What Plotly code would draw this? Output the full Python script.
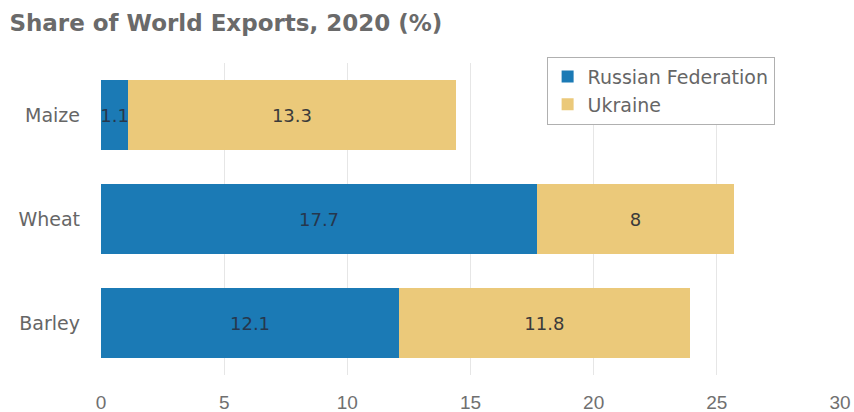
import plotly.graph_objects as go

categories = ["Barley", "Wheat", "Maize"]
russia = [12.1, 17.7, 1.1]
ukraine = [11.8, 8, 13.3]
tick_vals = [0, 5, 10, 15, 20, 25, 30]

wide_font = "DejaVu Sans, Liberation Sans, sans-serif"
tick_font = "Liberation Sans, Arial, sans-serif"

fig = go.Figure()
fig.add_trace(go.Bar(
    y=categories, x=russia, orientation="h", name="Russian Federation",
    marker=dict(color="#1b7ab5", line=dict(width=0)),
    text=[str(v) for v in russia], textposition="inside", textangle=0,
    insidetextanchor="middle", constraintext="none",
    textfont=dict(color="#26374d", size=18, family=wide_font),
))
fig.add_trace(go.Bar(
    y=categories, x=ukraine, orientation="h", name="Ukraine",
    marker=dict(color="#ebc97a", line=dict(width=0)),
    text=[str(v) for v in ukraine], textposition="inside", textangle=0,
    insidetextanchor="middle", constraintext="none",
    textfont=dict(color="#3a3a3a", size=18, family=wide_font),
))

fig.update_layout(
    barmode="stack",
    bargap=0.33,
    width=854, height=412,
    margin=dict(l=101, r=14, t=63, b=37),
    paper_bgcolor="white", plot_bgcolor="white",
    font=dict(family=wide_font, color="#666666"),
    title=dict(text="<b>Share of World Exports, 2020 (%)</b>",
               x=0.011, xanchor="left", y=0.945, yanchor="middle",
               font=dict(size=23, color="#6a6a6a", family=wide_font)),
    legend=dict(x=0.603, y=1.02, xanchor="left", yanchor="top",
                bordercolor="#b0b0b0", borderwidth=1, bgcolor="white",
                font=dict(size=19, color="#666666", family=wide_font),
                traceorder="normal", itemwidth=30),
    xaxis=dict(range=[0, 30], tickvals=tick_vals, showgrid=True,
               gridcolor="#e6e6e6", zeroline=False, showline=False,
               ticks="", ticklabelstandoff=14, automargin=False,
               tickfont=dict(size=19, color="#707070", family=tick_font)),
    yaxis=dict(showgrid=False, zeroline=False, showline=False,
               ticks="", ticklabelstandoff=20, automargin=False,
               tickfont=dict(size=19, color="#666666", family=wide_font)),
    showlegend=True,
)

fig.write_html("out.html")
